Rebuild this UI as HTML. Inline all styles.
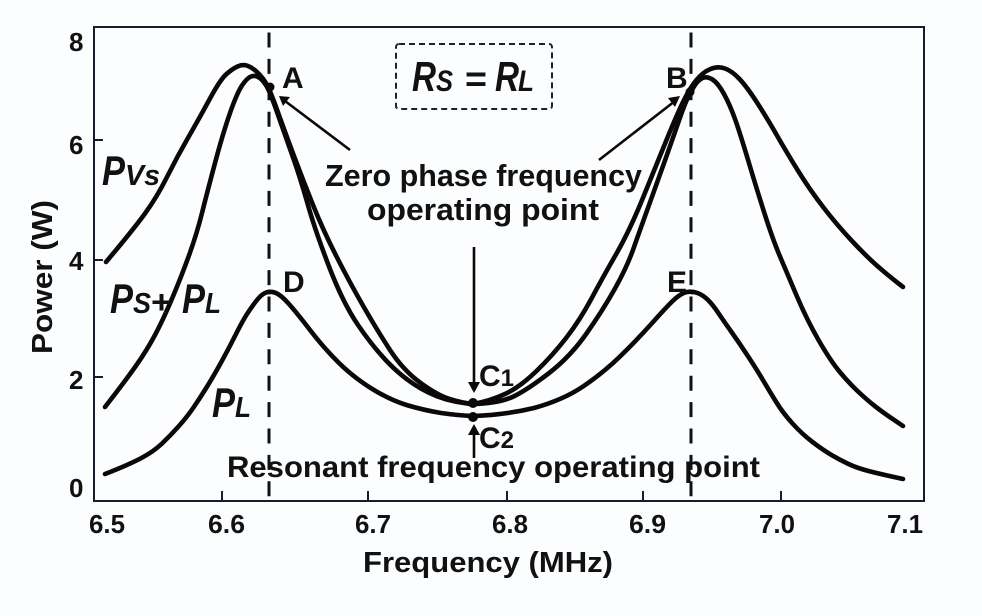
<!DOCTYPE html>
<html><head><meta charset="utf-8"><title>Power vs Frequency</title>
<style>html,body{margin:0;padding:0;background:#fcfdfe}svg{display:block}
text{font-family:"Liberation Sans",sans-serif;fill:#111}
.b{font-weight:bold}.i{font-style:italic}</style></head>
<body>
<svg width="982" height="616" viewBox="0 0 982 616" xmlns="http://www.w3.org/2000/svg">
<rect width="982" height="616" fill="#fcfdfe"/>
<!-- frame and ticks -->
<g fill="none" stroke="#1b1a30" stroke-width="2">
<rect x="94" y="27" width="830" height="474"/>
<path d="M94 140H103M94 260H103M94 377H103M222 501V491M368 501V491M507 501V491M643 501V491M781 501V491"/>
</g>
<!-- dashed -->
<g fill="none" stroke="#111" stroke-width="3">
<path d="M269 32.5V498M691 32.5V498" stroke-dasharray="15 11.4"/>
</g>
<rect x="396" y="44" width="156" height="65" rx="3" fill="none" stroke="#222" stroke-width="2" stroke-dasharray="6 4"/>
<!-- curves -->
<g fill="none" stroke="#0c0808" stroke-width="4.6" stroke-linejoin="round" stroke-linecap="round">
<path d="M106 262Q133 230 145 213.5Q157 197 167 177Q177 157 188.5 137Q200 117 210 98.5Q220 80 226 74.5Q232 69 237.5 66.5Q243 64 248 66Q253 68 258 73Q263 78 266.5 84Q270 90 277.5 111Q285 132 294 156Q303 180 313 205Q323 230 336.5 256.5Q350 283 363.5 306.5Q377 330 390 350Q403 370 420 382.5Q437 395 449.5 399Q462 403 473 404Q490 401 505 394Q520 387 536.5 371Q553 355 566.5 337.5Q580 320 591.5 298.5Q603 277 616.5 253.5Q630 230 643.5 196.5Q657 163 667.5 137.5Q678 112 684 100Q690 88 696.5 80Q703 72 710.5 69Q718 66 725 68.5Q732 71 739.5 79Q747 87 757 102.5Q767 118 777 135.5Q787 153 798.5 171.5Q810 190 823.5 207.5Q837 225 852 241Q867 257 878.5 267Q890 277 903 287"/>
<path d="M105 407Q126 380 136.5 365Q147 350 155 335Q163 320 172.5 297.5Q182 275 189.5 254Q197 233 202 213Q207 193 215 163Q223 133 230 113Q237 93 242 85.5Q247 78 251 76.5Q255 75 259 77.5Q263 80 266.5 86Q270 92 277.5 113.5Q285 135 292.5 156Q300 177 307.5 203.5Q315 230 329 266.5Q343 303 358 325Q373 347 388 362.5Q403 378 420 388Q437 398 455 401.5Q465 403.5 473 404Q500 403 513.5 396.5Q527 390 548.5 373.5Q570 357 586.5 333.5Q603 310 615 288.5Q627 267 633.5 248.5Q640 230 648.5 206.5Q657 183 665.5 159Q674 135 679 120.5Q684 106 687 99.5Q690 93 694 86.5Q698 80 702.5 78Q707 76 712.5 79.5Q718 83 724 94Q730 105 735 119Q740 133 748.5 161.5Q757 190 765 215Q773 240 780 256.5Q787 273 797 296.5Q807 320 818.5 340Q830 360 839 371Q848 382 857.5 391Q867 400 876 407Q885 414 903 426"/>
<path d="M105 474Q128 465 140.5 458.5Q153 452 161.5 444Q170 436 178.5 426.5Q187 417 193.5 407.5Q200 398 206.5 387.5Q213 377 220.5 363.5Q228 350 235.5 335Q243 320 248 312.5Q253 305 257 300Q261 295 265 293Q269 291 274.5 292.5Q280 294 288.5 303.5Q297 313 310 330Q323 347 338 362Q353 377 371.5 388.5Q390 400 406.5 405Q423 410 441 413Q459 415.5 473 416Q505 415 534 408Q563 400 583 386.5Q603 373 620 356.5Q637 340 653.5 321.5Q670 303 676 298Q682 293 687 292Q692 291 697.5 293Q703 295 708 300Q713 305 718 312.5Q723 320 731.5 332Q740 344 748.5 357Q757 370 763.5 381Q770 392 776.5 402.5Q783 413 792.5 423.5Q802 434 812.5 442Q823 450 831.5 455Q840 460 848.5 464Q857 468 868.5 471Q880 474 903 479"/>
</g>
<!-- dots -->
<g fill="#0c0808">
<circle cx="473" cy="403" r="5"/><circle cx="473" cy="417" r="5"/>
<circle cx="270" cy="87" r="4.5"/><circle cx="690" cy="92" r="4.5"/>
<circle cx="269" cy="292" r="2.5"/><circle cx="692" cy="292" r="2.5"/>
</g>
<!-- arrows -->
<g fill="none" stroke="#0c0808" stroke-width="2.6">
<path d="M350 150L285 101M599 160L675 101M474 247V385M474 458V431"/>
</g>
<g fill="#0c0808">
<polygon points="279,96 290,97 283,106"/>
<polygon points="680,96 668,98 675,107"/>
<polygon points="474,393 468,382 480,382"/>
<polygon points="474,424 468,435 480,435"/>
</g>
<!-- text -->
<g class="b">
<text x="325" y="186" font-size="31" textLength="317" lengthAdjust="spacingAndGlyphs">Zero phase frequency</text>
<text x="367" y="220" font-size="31" textLength="232" lengthAdjust="spacingAndGlyphs">operating point</text>
<text x="227" y="477" font-size="30" textLength="533" lengthAdjust="spacingAndGlyphs">Resonant frequency operating point</text>
<text x="363" y="572" font-size="29" textLength="250" lengthAdjust="spacingAndGlyphs">Frequency (MHz)</text>
<text transform="translate(52,354) rotate(-90)" font-size="29" textLength="154" lengthAdjust="spacingAndGlyphs">Power (W)</text>
<g font-size="26">
<text x="89" y="533" textLength="36" lengthAdjust="spacingAndGlyphs">6.5</text>
<text x="208" y="533" textLength="37" lengthAdjust="spacingAndGlyphs">6.6</text>
<text x="355" y="533" textLength="36" lengthAdjust="spacingAndGlyphs">6.7</text>
<text x="492" y="533" textLength="36" lengthAdjust="spacingAndGlyphs">6.8</text>
<text x="629" y="533" textLength="37" lengthAdjust="spacingAndGlyphs">6.9</text>
<text x="759" y="533" textLength="36" lengthAdjust="spacingAndGlyphs">7.0</text>
<text x="887" y="533" textLength="36" lengthAdjust="spacingAndGlyphs">7.1</text>
<text x="69" y="51">8</text>
<text x="69" y="154">6</text>
<text x="69" y="270">4</text>
<text x="69" y="389">2</text>
<text x="69" y="497">0</text>
</g>
<g font-size="30">
<text x="282" y="88">A</text>
<text x="666" y="88">B</text>
<text x="283" y="292">D</text>
<text x="667" y="292">E</text>
<text x="479" y="386">C<tspan font-size="24">1</tspan></text>
<text x="479" y="448">C<tspan font-size="24">2</tspan></text>
</g>
</g>
<g class="i" font-weight="bold">
<text x="412" y="91" font-size="42" textLength="24" lengthAdjust="spacingAndGlyphs">R</text>
<text x="436" y="91" font-size="30" textLength="17" lengthAdjust="spacingAndGlyphs">S</text>
<text x="465" y="91" font-size="36" font-style="normal" textLength="22" lengthAdjust="spacingAndGlyphs">=</text>
<text x="495" y="91" font-size="42" textLength="24" lengthAdjust="spacingAndGlyphs">R</text>
<text x="518" y="91" font-size="30" textLength="16" lengthAdjust="spacingAndGlyphs">L</text>
<text x="102" y="185" font-size="42" textLength="23" lengthAdjust="spacingAndGlyphs">P</text>
<text x="125" y="185" font-size="29" textLength="35" lengthAdjust="spacingAndGlyphs">Vs</text>
<text x="110" y="313" font-size="42" textLength="23" lengthAdjust="spacingAndGlyphs">P</text>
<text x="133" y="313" font-size="29" textLength="18" lengthAdjust="spacingAndGlyphs">S</text>
<text x="151" y="313" font-size="32" font-style="normal" textLength="21" lengthAdjust="spacingAndGlyphs">+</text>
<text x="182" y="313" font-size="42" textLength="23" lengthAdjust="spacingAndGlyphs">P</text>
<text x="205" y="313" font-size="29" textLength="16" lengthAdjust="spacingAndGlyphs">L</text>
<text x="212" y="417" font-size="42" textLength="23" lengthAdjust="spacingAndGlyphs">P</text>
<text x="235" y="417" font-size="29" textLength="16" lengthAdjust="spacingAndGlyphs">L</text>
</g>
</svg>
</body></html>
